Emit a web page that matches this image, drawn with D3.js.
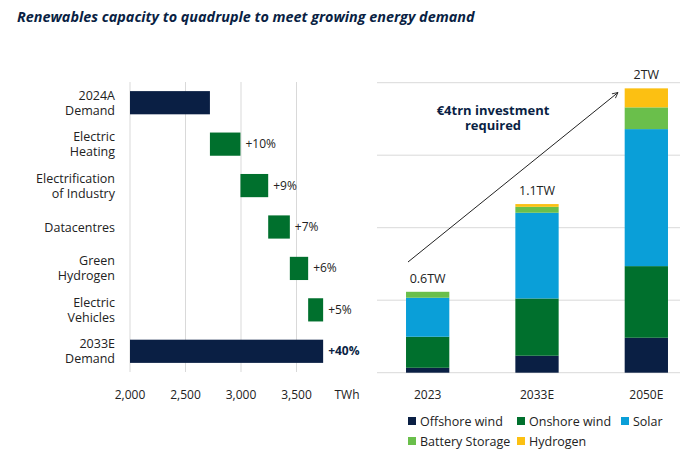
<!DOCTYPE html>
<html>
<head>
<meta charset="utf-8">
<script src="https://cdn.jsdelivr.net/npm/d3@7"></script>
<style>
  body { margin: 0; background: #fff; }
  svg { font-family: "Open Sans", "Noto Sans", sans-serif; }
</style>
</head>
<body>
<svg id="chart"></svg>
<script>
// left: demand bridge (TWh)
const demandLabels = [["2024A", "Demand"], ["Electric", "Heating"], ["Electrification", "of Industry"],
  ["Datacentres"], ["Green", "Hydrogen"], ["Electric", "Vehicles"], ["2033E", "Demand"]];
const demandStart = 2720;
const demandSteps = [275, 250, 195, 165, 135];
const demandEnd = 3740;
const stepLabels = ["+10%", "+9%", "+7%", "+6%", "+5%"];
const totalLabel = "+40%";
const xTicks = [2000, 2500, 3000, 3500];

// right: capacity stack (GW)
const years = ["2023", "2033E", "2050E"];
const techs = ["Offshore wind", "Onshore wind", "Solar", "Battery Storage", "Hydrogen"];
const offshore = [34, 117, 241];
const onshore = [214, 395, 494];
const solar = [269, 591, 945];
const battery = [41, 41, 150];
const hydrogen = [0, 19, 131];
const totalLabels = ["0.6TW", "1.1TW", "2TW"];
const yTicks = [0, 500, 1000, 1500, 2000];

const W = 680, H = 453;
const navy = "#0a1f44", green = "#00702d";
const colors = [navy, green, "#0a9fd8", "#6abf4b", "#fcc012"];

const svg = d3.select("#chart").attr("width", W).attr("height", H);

svg.append("text")
  .attr("x", 17).attr("y", 22)
  .attr("font-size", 14.4).attr("font-weight", 700).attr("font-style", "italic")
  .attr("fill", navy)
  .text("Renewables capacity to quadruple to meet growing energy demand");

// ---- left chart ----
const xL = d3.scaleLinear().domain([2000, 4000]).range([130, 352]);
const yL = d3.scaleBand().domain(d3.range(demandLabels.length)).range([82, 372])
  .paddingInner(0.44).paddingOuter(0.22);

const left = svg.append("g");

left.selectAll(".grid").data(xTicks).join("line")
  .attr("class", "grid")
  .attr("x1", d => xL(d)).attr("x2", d => xL(d))
  .attr("y1", 82).attr("y2", 372)
  .attr("stroke", "#d9d9d9").attr("stroke-width", 1);

left.selectAll(".tick-label").data(xTicks).join("text")
  .attr("class", "tick-label")
  .attr("x", d => xL(d)).attr("y", 399)
  .attr("text-anchor", "middle").attr("font-size", 12).attr("fill", "#222")
  .text(d => d3.format(",")(d));

left.append("text")
  .attr("x", xL(4000) - 5).attr("y", 399)
  .attr("text-anchor", "middle").attr("font-size", 12).attr("fill", "#222")
  .text("TWh");

// build bridge segments
const segs = [];
let run = demandStart;
segs.push({ i: 0, x0: 2000, x1: demandStart, total: true });
demandSteps.forEach((s, k) => {
  segs.push({ i: k + 1, x0: run, x1: run + s, total: false, label: stepLabels[k] });
  run += s;
});
segs.push({ i: 6, x0: 2000, x1: demandEnd, total: true, label: totalLabel });

left.selectAll(".bar").data(segs).join("rect")
  .attr("class", "bar")
  .attr("x", d => xL(d.x0))
  .attr("width", d => xL(d.x1) - xL(d.x0))
  .attr("y", d => yL(d.i))
  .attr("height", yL.bandwidth())
  .attr("fill", d => d.total ? navy : green);

left.selectAll(".val").data(segs.filter(d => d.label)).join("text")
  .attr("class", "val")
  .attr("x", d => xL(d.x1) + 5)
  .attr("y", d => yL(d.i) + yL.bandwidth() / 2 + 4)
  .attr("font-size", 12)
  .attr("font-weight", d => d.total ? 700 : 400)
  .attr("fill", d => d.total ? navy : "#222")
  .text(d => d.label);

const cat = left.selectAll(".cat").data(demandLabels).join("text")
  .attr("class", "cat")
  .attr("text-anchor", "end")
  .attr("font-size", 12.5).attr("fill", "#222")
  .attr("y", (d, i) => yL(i) + yL.bandwidth() / 2 + 4.5 - (d.length - 1) * 7.5);
cat.selectAll("tspan").data(d => d).join("tspan")
  .attr("x", 115)
  .attr("dy", (d, j) => j ? 15 : 0)
  .text(d => d);

// ---- right chart ----
const xR = d3.scaleBand().domain(years).range([373, 701])
  .paddingInner(0.604).paddingOuter(0.302);
const yR = d3.scaleLinear().domain([0, 2000]).range([372.7, 82.7]);

const right = svg.append("g");

right.selectAll(".grid").data(yTicks).join("line")
  .attr("class", "grid")
  .attr("x1", 377).attr("x2", 680)
  .attr("y1", d => yR(d)).attr("y2", d => yR(d))
  .attr("stroke", "#d9d9d9").attr("stroke-width", 1);

const rows = years.map((y, i) => ({
  year: y, "Offshore wind": offshore[i], "Onshore wind": onshore[i],
  "Solar": solar[i], "Battery Storage": battery[i], "Hydrogen": hydrogen[i]
}));
const stacked = d3.stack().keys(techs)(rows);

right.selectAll(".layer").data(stacked).join("g")
  .attr("class", "layer")
  .attr("fill", (d, i) => colors[i])
  .selectAll("rect").data(d => d).join("rect")
  .attr("x", d => xR(d.data.year))
  .attr("width", xR.bandwidth())
  .attr("y", d => yR(d[1]))
  .attr("height", d => yR(d[0]) - yR(d[1]));

right.selectAll(".total").data(rows).join("text")
  .attr("class", "total")
  .attr("x", d => xR(d.year) + xR.bandwidth() / 2)
  .attr("y", d => yR(d3.sum(techs, k => d[k])) - 9)
  .attr("text-anchor", "middle").attr("font-size", 12.5).attr("fill", "#222")
  .text((d, i) => totalLabels[i]);

right.selectAll(".year").data(years).join("text")
  .attr("class", "year")
  .attr("x", d => xR(d) + xR.bandwidth() / 2).attr("y", 399)
  .attr("text-anchor", "middle").attr("font-size", 12).attr("fill", "#222")
  .text(d => d);

// arrow
svg.append("defs").append("marker")
  .attr("id", "arrow").attr("viewBox", "0 0 10 10")
  .attr("refX", 9).attr("refY", 5)
  .attr("markerWidth", 7).attr("markerHeight", 7)
  .attr("orient", "auto")
  .append("path").attr("d", "M1,1 L9,5 L1,9").attr("fill", "none")
  .attr("stroke", "#222").attr("stroke-width", 1.2);

right.append("line")
  .attr("x1", 408).attr("y1", 262)
  .attr("x2", 618).attr("y2", 92.5)
  .attr("stroke", "#222").attr("stroke-width", 1)
  .attr("marker-end", "url(#arrow)");

const note = right.append("text")
  .attr("text-anchor", "middle").attr("font-size", 13).attr("font-weight", 700)
  .attr("fill", navy).attr("y", 115);
note.append("tspan").attr("x", 493).text("€4trn investment");
note.append("tspan").attr("x", 493).attr("dy", 15).text("required");

// legend
const legendPos = [[408, 421], [517, 421], [621, 421], [408, 441], [517, 441]];
const leg = svg.selectAll(".leg").data(techs).join("g")
  .attr("class", "leg")
  .attr("transform", (d, i) => `translate(${legendPos[i][0]},${legendPos[i][1]})`);
leg.append("rect").attr("x", 0).attr("y", -4).attr("width", 8).attr("height", 8)
  .attr("fill", (d, i) => colors[i]);
leg.append("text").attr("x", 12).attr("y", 4.5)
  .attr("font-size", 12.5).attr("fill", "#222").text(d => d);
</script>
</body>
</html>
